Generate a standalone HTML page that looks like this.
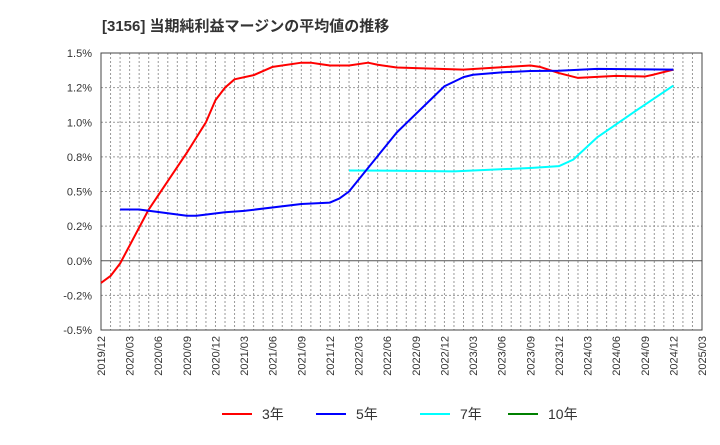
<!DOCTYPE html>
<html><head><meta charset="utf-8"><style>
body{margin:0;background:#fff;font-family:"Liberation Sans","Noto Sans CJK JP",sans-serif}
svg text{font-family:"Liberation Sans","Noto Sans CJK JP",sans-serif}
</style></head><body>
<svg id="c" width="720" height="440" xmlns="http://www.w3.org/2000/svg">
<text x="102" y="31" font-size="15" font-weight="bold" fill="#333">[3156]  当期純利益マージンの平均値の推移</text>
<g id="grid"></g><g id="axes"></g><g id="series"></g><g id="legend"></g>
</svg>
<script>
const xLabels=["2019/12","2020/03","2020/06","2020/09","2020/12","2021/03","2021/06","2021/09","2021/12","2022/03","2022/06","2022/09","2022/12","2023/03","2023/06","2023/09","2023/12","2024/03","2024/06","2024/09","2024/12","2025/03"];
const yTicks=[1.5,1.25,1.0,0.75,0.5,0.25,0,-0.25,-0.5];
const yTickLabels=["1.5%","1.2%","1.0%","0.8%","0.5%","0.2%","0.0%","-0.2%","-0.5%"];
const m3=[0,1,2,5,9,11,12,13,14,16,18,21,22,23,24,26,28,29,31,38,45,46,48,50,54,57,58,60];
const v3=[-0.16,-0.11,-0.02,0.37,0.78,1.0,1.16,1.25,1.31,1.34,1.40,1.43,1.43,1.42,1.41,1.41,1.43,1.415,1.395,1.38,1.41,1.40,1.355,1.32,1.335,1.33,1.345,1.38];
const m5=[2,4,9,10,13,15,21,24,25,26,31,36,38,39,42,45,48,52,60];
const v5=[0.37,0.37,0.325,0.325,0.35,0.36,0.41,0.42,0.45,0.50,0.926,1.26,1.326,1.343,1.36,1.37,1.372,1.385,1.38];
const m7=[26,31,37,45,48,49.5,52,56,60];
const v7=[0.652,0.65,0.645,0.67,0.683,0.73,0.89,1.08,1.265];
const m10=[];const v10=[];
const L=101,R=702,T=53,B=330,NM=63;
const X=m=>L+(R-L)*m/NM;
const Y=v=>T+(1.5-v)/2.0*(B-T);
const ns="http://www.w3.org/2000/svg";
function mk(p,t,a){const e=document.createElementNS(ns,t);for(const k in a)e.setAttribute(k,a[k]);p.appendChild(e);return e;}
const grid=document.getElementById('grid'),axes=document.getElementById('axes'),ser=document.getElementById('series'),leg=document.getElementById('legend');
for(let m=1;m<NM;m++){const l=mk(grid,'line',{x1:X(m),x2:X(m),y1:T,y2:B,stroke:'#999','stroke-dasharray':'2,2','stroke-width':1});

}
yTicks.forEach((v,i)=>{const l=mk(grid,'line',{x1:L,x2:R,y1:Y(v),y2:Y(v),stroke:v===0?'#555':'#999','stroke-dasharray':v===0?'':'2,2','stroke-width':1});


const t=mk(axes,'text',{x:92,y:Y(v)+4,'font-size':11,'text-anchor':'end',fill:'#333'});t.textContent=yTickLabels[i];

});
xLabels.forEach((s,i)=>{const x=X(i*3);const t=mk(axes,'text',{x:0,y:0,'font-size':11,'text-anchor':'end',fill:'#333',transform:`translate(${x+4},336) rotate(-90)`});t.textContent=s;

});
const fr=mk(axes,'rect',{x:L,y:T,width:R-L,height:B-T,fill:'none',stroke:'#444','stroke-width':1});


function line(ms,vs,c,name){if(!ms.length)return;const p=mk(ser,'polyline',{points:ms.map((m,i)=>X(m)+','+Y(vs[i])).join(' '),fill:'none',stroke:c,'stroke-width':2,'stroke-linejoin':'round'});

}
line(m7,v7,'#00ffff','series-7yr');
line(m3,v3,'#ff0000','series-3yr');
line(m5,v5,'#0000ff','series-5yr');
line(m10,v10,'#008000','series-10yr');
[['3年','#ff0000',222],['5年','#0000ff',316],['7年','#00ffff',420],['10年','#008000',508]].forEach(([s,c,x])=>{
const g=mk(leg,'g',{});


mk(g,'line',{x1:x,x2:x+30,y1:414,y2:414,stroke:c,'stroke-width':2});
const t=mk(g,'text',{x:x+40,y:419,'font-size':14,fill:'#333'});t.textContent=s;});
</script>
</body></html>
